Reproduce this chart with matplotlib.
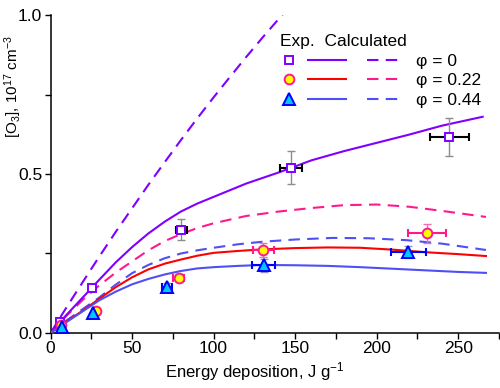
import matplotlib
matplotlib.use("Agg")
import matplotlib.pyplot as plt
from matplotlib.lines import Line2D
from matplotlib.legend_handler import HandlerBase
from matplotlib.ticker import MultipleLocator, FormatStrFormatter

plt.rcParams['font.family'] = ['Liberation Sans', 'DejaVu Sans']
plt.rcParams['mathtext.fontset'] = 'custom'
plt.rcParams['mathtext.rm'] = 'Liberation Sans'
plt.rcParams['mathtext.it'] = 'Liberation Sans:italic'

# ---------------- data ----------------
labels = ["φ = 0", "φ = 0.22", "φ = 0.44"]

# experimental points
exp0_x = [5.8, 25.5, 80.3, 147.5, 244.5]
exp0_y = [0.036, 0.140, 0.324, 0.520, 0.616]
exp0_xerr = [0, 0, 3.6, 7.0, 12.0]
exp0_yerr = [0, 0, 0.033, 0.052, 0.060]

exp1_x = [6.5, 27.9, 78.5, 130.5, 231.0]
exp1_y = [0.025, 0.069, 0.172, 0.262, 0.314]
exp1_xerr = [0, 0, 3.5, 6.5, 11.5]
exp1_yerr = [0, 0, 0.012, 0.022, 0.030]

exp2_x = [6.8, 26.2, 71.2, 130.7, 219.5]
exp2_y = [0.020, 0.062, 0.146, 0.213, 0.255]
exp2_xerr = [0, 0, 3.0, 7.0, 11.0]
exp2_yerr = [0, 0, 0.010, 0.020, 0.020]

# calculated curves (solid)
calc0_x = [0, 5, 10, 20, 25, 30, 40, 50, 60, 70, 80, 90, 100, 120, 140, 148, 160, 180, 200, 220, 240, 265]
calc0_y = [0, 0.030, 0.058, 0.113, 0.140, 0.168, 0.222, 0.270, 0.313, 0.350, 0.382, 0.407, 0.428, 0.470, 0.505, 0.520, 0.543, 0.572, 0.598, 0.624, 0.652, 0.680]

calc1_x = [0, 5, 10, 20, 30, 40, 50, 60, 70, 80, 90, 100, 115, 130, 150, 170, 190, 210, 230, 250, 267]
calc1_y = [0, 0.019, 0.037, 0.071, 0.108, 0.144, 0.175, 0.200, 0.218, 0.231, 0.243, 0.252, 0.258, 0.263, 0.267, 0.269, 0.268, 0.262, 0.254, 0.248, 0.242]

calc2_x = [0, 5, 10, 20, 30, 40, 50, 60, 70, 80, 90, 100, 115, 130, 150, 170, 190, 210, 230, 250, 267]
calc2_y = [0, 0.018, 0.035, 0.069, 0.103, 0.130, 0.153, 0.170, 0.184, 0.195, 0.203, 0.207, 0.211, 0.214, 0.213, 0.211, 0.207, 0.202, 0.197, 0.192, 0.189]

# calculated curves (dashed)
calcd0_x = [0, 10, 20, 30, 40, 50, 60, 70, 80, 90, 100, 110, 120, 130, 142, 146]
calcd0_y = [0, 0.082, 0.162, 0.241, 0.318, 0.392, 0.466, 0.537, 0.607, 0.675, 0.741, 0.805, 0.868, 0.929, 1.000, 1.022]

calcd1_x = [0, 5, 10, 20, 30, 40, 50, 60, 70, 80, 90, 100, 120, 140, 160, 180, 200, 220, 240, 267]
calcd1_y = [0, 0.028, 0.055, 0.105, 0.150, 0.190, 0.225, 0.260, 0.289, 0.311, 0.330, 0.345, 0.368, 0.382, 0.393, 0.402, 0.404, 0.397, 0.384, 0.365]

calcd2_x = [0, 5, 10, 20, 30, 40, 50, 60, 70, 80, 90, 100, 115, 130, 150, 173, 195, 218, 240, 267]
calcd2_y = [0, 0.020, 0.040, 0.076, 0.112, 0.152, 0.188, 0.214, 0.235, 0.250, 0.260, 0.268, 0.279, 0.287, 0.294, 0.299, 0.298, 0.292, 0.281, 0.261]

xticks = [0, 50, 100, 150, 200, 250]
yticks = [0.0, 0.5, 1.0]

# ---------------- style ----------------
c_purple = "#8000ff"
c_pink = "#ff1a8c"
c_red = "#ff0000"
c_blue = "#4f4ff5"
c_cyan = "#00c8ff"
c_blue_edge = "#0000ff"
lw = 1.5
dash = (5.5, 3.5)

fig = plt.figure(figsize=(5.0, 3.88), dpi=100)
ax = fig.add_axes([0.101, 0.1418, 0.897, 0.8195])

ax.plot(calcd0_x, calcd0_y, color=c_purple, lw=lw, dashes=dash, zorder=2)
ax.plot(calcd1_x, calcd1_y, color=c_pink, lw=lw, dashes=dash, zorder=2)
ax.plot(calcd2_x, calcd2_y, color=c_blue, lw=lw, dashes=dash, zorder=2)
ax.plot(calc0_x, calc0_y, color=c_purple, lw=lw, zorder=3)
ax.plot(calc1_x, calc1_y, color=c_red, lw=lw, zorder=3)
ax.plot(calc2_x, calc2_y, color=c_blue, lw=lw, zorder=3)

def draw_exp(x, y, xerr, yerr, xcol, ycol, marker, ms, fc, ec):
    ax.errorbar(x, y, yerr=yerr, fmt='none', ecolor=ycol, elinewidth=1.0, capsize=3, capthick=1.0, zorder=4)
    ax.errorbar(x, y, xerr=xerr, fmt='none', ecolor=xcol, elinewidth=1.5, capsize=3, capthick=1.5, zorder=4)
    ax.plot(x, y, ls='none', marker=marker, ms=ms, mfc=fc, mec=ec, mew=1.4, zorder=5, clip_on=False)

draw_exp(exp0_x, exp0_y, exp0_xerr, exp0_yerr, "black", "#8c8c8c", 's', 6.2, "white", c_purple)
draw_exp(exp1_x, exp1_y, exp1_xerr, exp1_yerr, c_pink, "#f070b0", 'o', 7.0, "#ffff00", c_pink)
draw_exp(exp2_x, exp2_y, exp2_xerr, exp2_yerr, c_blue_edge, "#9090c0", '^', 8.0, c_cyan, c_blue_edge)

ax.set_xlim(0, 275)
ax.set_ylim(0, 1.0)
ax.spines['top'].set_visible(False)
ax.spines['right'].set_visible(False)
for s in ('left', 'bottom'):
    ax.spines[s].set_linewidth(1.1)
ax.set_xticks(xticks)
ax.set_yticks(yticks)
ax.yaxis.set_major_formatter(FormatStrFormatter('%.1f'))
ax.xaxis.set_minor_locator(MultipleLocator(25))
ax.yaxis.set_minor_locator(MultipleLocator(0.25))
ax.tick_params(which='both', direction='out', length=4, width=1.0, labelsize=12.5, pad=2)

ax.set_xlabel("Energy deposition, J g$^{-1}$", fontsize=12)
ax.set_ylabel("[O$_3$], 10$^{17}$ cm$^{-3}$", fontsize=11)
ax.xaxis.set_label_coords(0.456, -0.085)
ax.yaxis.set_label_coords(-0.060, 0.774)


class TripleHandler(HandlerBase):
    def create_artists(self, legend, orig_handle, xdescent, ydescent, width, height, fontsize, trans):
        marker_h, solid_h, dash_h = orig_handle
        yc = height / 2.0 - ydescent
        x0 = -xdescent
        m = Line2D([x0 + 0.07 * width], [yc], ls='none', marker=marker_h.get_marker(),
                   ms=marker_h.get_markersize(), mfc=marker_h.get_markerfacecolor(),
                   mec=marker_h.get_markeredgecolor(), mew=marker_h.get_markeredgewidth())
        s = Line2D([x0 + 0.235 * width, x0 + 0.548 * width], [yc, yc], color=solid_h.get_color(), lw=lw)
        d = Line2D([x0 + 0.722 * width, x0 + 1.0 * width], [yc, yc], color=dash_h.get_color(), lw=lw, dashes=dash)
        for a in (m, s, d):
            a.set_transform(trans)
        return [m, s, d]


handles = [
    (Line2D([], [], marker='s', ms=6.2, mfc='white', mec=c_purple, mew=1.4),
     Line2D([], [], color=c_purple), Line2D([], [], color=c_purple)),
    (Line2D([], [], marker='o', ms=7.0, mfc='#ffff00', mec=c_pink, mew=1.4),
     Line2D([], [], color=c_red), Line2D([], [], color=c_pink)),
    (Line2D([], [], marker='^', ms=8.0, mfc=c_cyan, mec=c_blue_edge, mew=1.4),
     Line2D([], [], color=c_blue), Line2D([], [], color=c_blue)),
]
leg = ax.legend(handles, labels, handler_map={tuple: TripleHandler()},
                loc='upper left', bbox_to_anchor=(0.512, 0.94), frameon=False,
                handlelength=6.9, handletextpad=0.9, labelspacing=0.26,
                borderpad=0, borderaxespad=0, fontsize=12.5,
                title="Exp.  Calculated", title_fontsize=12.5, alignment='left')

fig.savefig("out.png", dpi=100)
